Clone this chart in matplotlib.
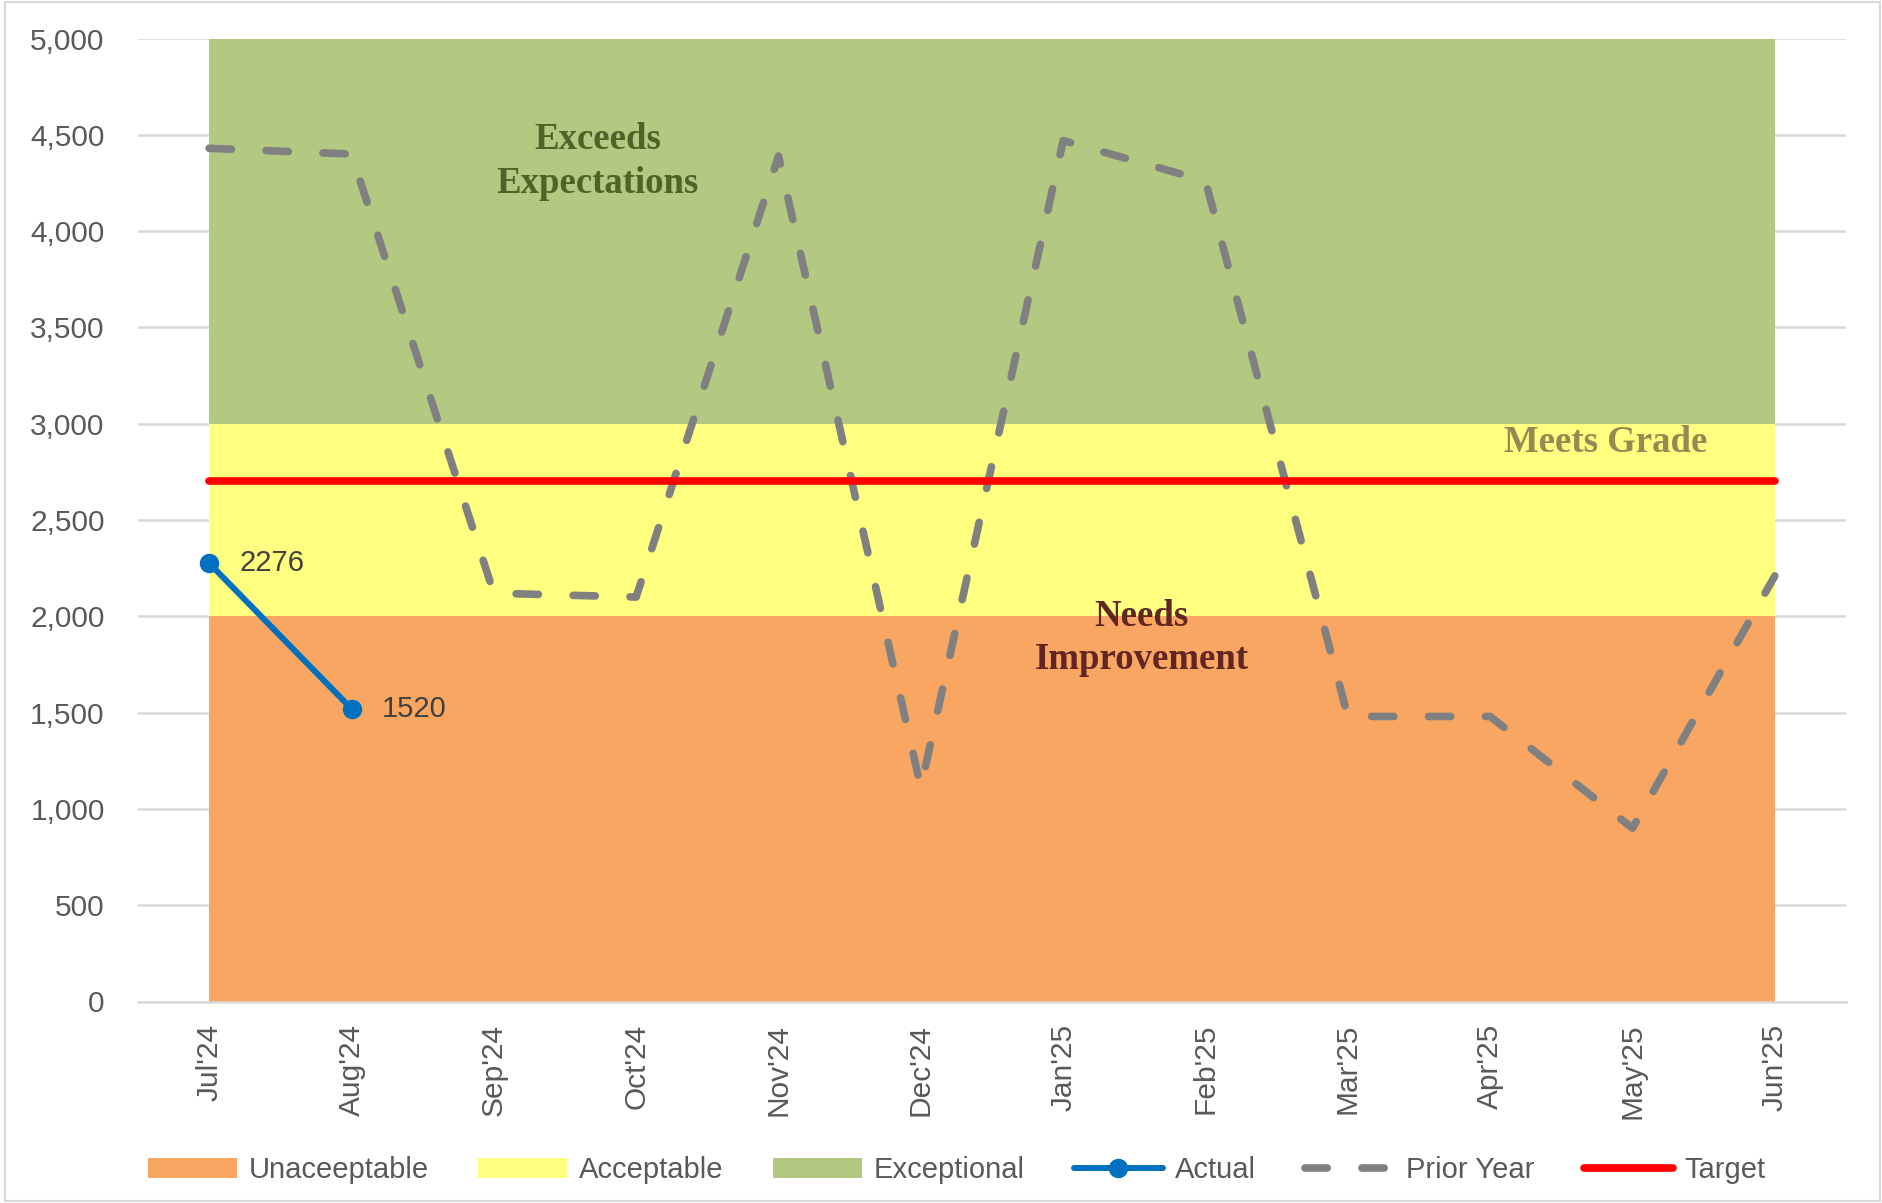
import matplotlib
matplotlib.use("Agg")
import matplotlib.pyplot as plt
from matplotlib.patches import Rectangle
from matplotlib.ticker import StrMethodFormatter
import numpy as np

# ---------------- data ----------------
months = ["Jul'24", "Aug'24", "Sep'24", "Oct'24", "Nov'24", "Dec'24",
          "Jan'25", "Feb'25", "Mar'25", "Apr'25", "May'25", "Jun'25"]
unacceptable = [2000] * 12          # band 0 - 2000
acceptable = [1000] * 12            # band 2000 - 3000
exceptional = [2000] * 12           # band 3000 - 5000
actual = [2276, 1520]
prior_year = [4430, 4400, 2120, 2100, 4390, 1110, 4470, 4260, 1480, 1480, 900, 2210]
target = [2700] * 12
yticks = list(range(0, 5001, 500))

# ---------------- style ----------------
c_orange = "#F8A662"
c_yellow = "#FFFF80"
c_green = "#B3C982"
c_blue = "#0070C0"
c_grey = "#808080"
c_red = "#FF0000"
c_text = "#595959"

plt.rcParams['font.family'] = ['Liberation Sans', 'DejaVu Sans']

fig = plt.figure(figsize=(18.83, 12.03), dpi=100)
W, H = 1883, 1203
ax = fig.add_axes([138 / W, 1 - 1001.5 / H, (1846 - 138) / W, (1001.5 - 38.5) / H])

x = np.arange(len(months))
ax.stackplot(x, unacceptable, acceptable, exceptional,
             colors=[c_orange, c_yellow, c_green],
             labels=["Unaceeptable", "Acceptable", "Exceptional"], zorder=2)

ax.plot(x[:len(actual)], actual, color=c_blue, lw=4.3, marker='o', markersize=13,
        solid_capstyle='round', label="Actual", zorder=5)

lw_py = 5.5
ax.plot(x, prior_year, color=c_grey, lw=lw_py, linestyle=(0, (16 / lw_py, 25 / lw_py)),
        dash_capstyle='round', solid_capstyle='round', dash_joinstyle='round',
        label="Prior Year", zorder=6)

ax.plot(x, target, color=c_red, lw=5.5, solid_capstyle='round', label="Target", zorder=7)

for xi, v in zip(x[:len(actual)], actual):
    ax.annotate(f"{v}", (xi, v), xytext=(22, 0), textcoords='offset points',
                ha='left', va='center', fontsize=21, color='#404040', zorder=8)

# zone labels
serif = ['Liberation Serif', 'DejaVu Serif']
ax.text(2.73, 4361, "Exceeds\nExpectations", ha='center', va='center', fontsize=26.5,
        fontweight='bold', family=serif, color='#4F6228', linespacing=1.32, zorder=4)
ax.text(9.81, 2900, "Meets Grade", ha='center', va='center', fontsize=26.5,
        fontweight='bold', family=serif, color='#948A54', zorder=4)
ax.text(6.55, 1887, "Needs\nImprovement", ha='center', va='center', fontsize=26.5,
        fontweight='bold', family=serif, color='#632523', linespacing=1.32, zorder=4)

# axes
ax.set_xlim(-0.5, len(months) - 0.5)
ax.set_ylim(0, 5000)
ax.set_yticks(yticks)
ax.yaxis.set_major_formatter(StrMethodFormatter('{x:,.0f}'))
ax.set_xticks(x)
ax.set_xticklabels(months, rotation=90, ha='center', va='top')
ax.tick_params(axis='y', length=0, pad=24, labelsize=21.5, labelcolor=c_text)
ax.tick_params(axis='x', length=0, pad=16, labelsize=21.5, labelcolor=c_text)
ax.yaxis.grid(True, color='#D9D9D9', lw=1.8, zorder=0)
ax.set_axisbelow(True)
for s in ['top', 'right', 'left']:
    ax.spines[s].set_visible(False)
ax.spines['bottom'].set_color('#D9D9D9')
ax.spines['bottom'].set_linewidth(1.8)

fig.legend(loc='center', bbox_to_anchor=(0.508, 1 - 1170 / H), ncol=6, frameon=False,
           handlelength=3.05, handletextpad=0.4, columnspacing=1.7, fontsize=21,
           labelcolor=c_text)

# outer border
fig.patches.append(Rectangle((5 / W, 2 / H), 1 - 8 / W, 1 - 4 / H, transform=fig.transFigure,
                             fill=False, edgecolor='#D9D9D9', lw=1.5))

fig.savefig("out.png", dpi=100)
